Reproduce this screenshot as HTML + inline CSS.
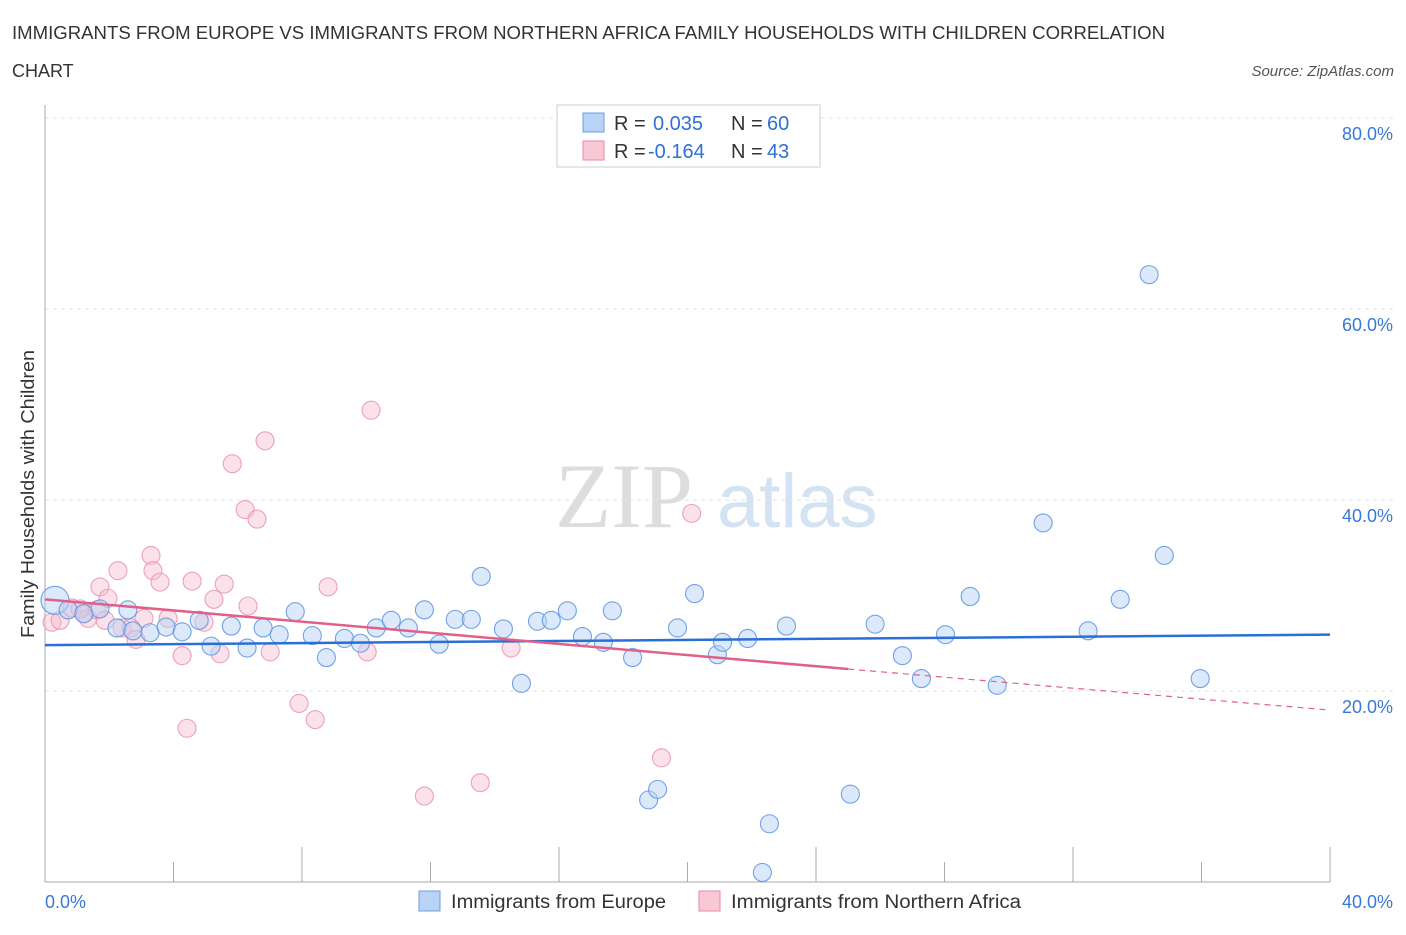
<!DOCTYPE html>
<html><head><meta charset="utf-8"><style>
body{margin:0;background:#fff;font-family:"Liberation Sans",sans-serif;}
</style></head><body>
<svg id="chart" width="1406" height="930" xmlns="http://www.w3.org/2000/svg" font-family="Liberation Sans, sans-serif">
<text x="12" y="39" font-size="18" fill="#333" textLength="1153" lengthAdjust="spacingAndGlyphs">IMMIGRANTS FROM EUROPE VS IMMIGRANTS FROM NORTHERN AFRICA FAMILY HOUSEHOLDS WITH CHILDREN CORRELATION</text>
<text x="12" y="77" font-size="18" fill="#333">CHART</text>
<text x="1394" y="76" font-size="15" fill="#555" font-style="italic" text-anchor="end">Source: ZipAtlas.com</text>
<text x="555" y="527" font-size="92" fill="#ddd" font-family="Liberation Serif, serif">ZIP</text>
<text x="717" y="527" font-size="76" fill="#d4e3f3">atlas</text>
<g id="grid"></g>
<g id="axes"></g>
<g id="marks"></g>
<text transform="translate(34,494) rotate(-90)" font-size="18" fill="#333" text-anchor="middle" textLength="288" lengthAdjust="spacingAndGlyphs">Family Households with Children</text>
<g>
<rect x="557" y="105" width="263" height="62" fill="#fff" stroke="#ccc"/>
<rect x="583" y="113" width="21" height="19" fill="#b8d3f5" stroke="#6a9fe0"/>
<rect x="583" y="141" width="21" height="19" fill="#f9c8d6" stroke="#e88aa6"/>
<text x="614" y="130" font-size="20" fill="#333">R = </text><text x="653" y="130" font-size="20" fill="#2f6fd6">0.035</text>
<text x="731" y="130" font-size="20" fill="#333">N = </text><text x="767" y="130" font-size="20" fill="#2f6fd6">60</text>
<text x="614" y="158" font-size="20" fill="#333">R = </text><text x="648" y="158" font-size="20" fill="#2f6fd6">-0.164</text>
<text x="731" y="158" font-size="20" fill="#333">N = </text><text x="767" y="158" font-size="20" fill="#2f6fd6">43</text>
</g>
<g>
<rect x="419" y="891" width="21" height="20" fill="#b8d3f5" stroke="#6a9fe0"/>
<text x="451" y="908" font-size="19" fill="#333" textLength="215" lengthAdjust="spacingAndGlyphs">Immigrants from Europe</text>
<rect x="699" y="891" width="21" height="20" fill="#f9c8d6" stroke="#e88aa6"/>
<text x="731" y="908" font-size="19" fill="#333" textLength="290" lengthAdjust="spacingAndGlyphs">Immigrants from Northern Africa</text>
</g>
</svg>
<script>
const yTicks=[20,40,60,80];
const xTickLabels=["0.0%","40.0%"];
const europeX=[0.31,0.72,1.21,1.71,2.58,2.24,2.74,3.27,3.77,4.27,4.80,5.17,5.80,6.29,6.79,7.29,7.79,8.32,8.76,9.32,9.82,10.31,10.78,11.31,11.81,12.27,12.77,13.27,13.58,14.27,14.83,15.33,15.76,16.26,16.73,17.38,17.66,18.29,18.79,19.07,19.69,20.22,20.93,21.09,21.87,22.55,22.33,23.08,25.07,25.84,26.69,27.28,28.03,28.80,29.64,31.07,32.47,33.47,34.37,34.84,35.96];
const europeY=[29.5,28.5,28.1,28.6,28.5,26.6,26.3,26.1,26.7,26.2,27.4,24.7,26.8,24.5,26.6,25.9,28.3,25.8,23.5,25.5,25.0,26.6,27.4,26.6,28.5,24.9,27.5,27.5,32.0,26.5,20.8,27.3,27.4,28.4,25.7,25.1,28.4,23.5,8.6,9.7,26.6,30.2,23.8,25.1,25.5,6.1,1.0,26.8,9.2,27.0,23.7,21.3,25.9,29.9,20.6,37.6,26.3,29.6,63.6,34.2,21.3];
const africaX=[0.22,0.47,0.84,1.21,1.34,1.71,1.96,2.27,2.40,2.68,2.83,3.08,3.30,3.36,3.58,3.83,4.27,4.42,4.58,4.95,5.26,5.45,5.58,5.83,6.23,6.32,6.60,6.85,7.01,7.91,8.41,8.81,10.03,10.15,11.81,13.55,14.51,19.19,20.13,1.62,1.09,1.87];
const africaY=[27.2,27.4,28.7,28.1,27.6,30.9,29.7,32.6,26.6,26.6,25.4,27.6,34.2,32.6,31.4,27.6,23.7,16.1,31.5,27.2,29.6,23.9,31.2,43.8,39.0,28.9,38.0,46.2,24.1,18.7,17.0,30.9,24.1,49.4,9.0,10.4,24.5,13.0,38.6,28.5,28.6,27.4];
const europeTrend=[0,24.8,40,25.9];
const africaTrend=[0,29.6,25,22.3,40,18.0];
const NS="http://www.w3.org/2000/svg";
const X0=45,X1=1330,Y0=882,Y80=118;
function xs(v){return X0+(X1-X0)*v/40;}
function ys(v){return Y0-(Y0-Y80)*v/80;}
function mk(tag,attrs,parent){const e=document.createElementNS(NS,tag);for(const k in attrs)e.setAttribute(k,attrs[k]);document.getElementById(parent).appendChild(e);return e;}
yTicks.forEach(t=>{
 const l=mk('line',{x1:X0,x2:1395,y1:ys(t),y2:ys(t),stroke:'#e2e2e2','stroke-dasharray':'4,4'},'grid');
 
 
 const tx=mk('text',{x:1393,y:ys(t)+22,'font-size':18,fill:'#3a78d6','text-anchor':'end'},'grid');
 tx.textContent=t.toFixed(1)+'%';
 
 
});
const ax=mk('line',{x1:X0,x2:X0,y1:105,y2:Y0,stroke:'#aaa'},'axes');


const bx=mk('line',{x1:X0,x2:X1,y1:Y0,y2:Y0,stroke:'#aaa'},'axes');


for(let i=0;i<=10;i++){
 const t=mk('line',{x1:xs(i*4),x2:xs(i*4),y1:Y0,y2:Y0-(i%2?20:35),stroke:'#aaa'},'axes');
 
 
}
[[0,X0,'start'],[40,1393,'end']].forEach((d,i)=>{
 const t=mk('text',{x:d[1],y:908,'font-size':18,fill:'#3a78d6','text-anchor':d[2]},'axes');
 t.textContent=xTickLabels[i];
 
 
});
function dots(xa,ya,fill,stroke,name,op){
 xa.forEach((x,i)=>{
  const c=mk('circle',{cx:xs(x),cy:ys(ya[i]),r:(i===0&&name==='europe-point')?14:9,fill:fill,'fill-opacity':op,stroke:stroke,'stroke-width':1.1,'stroke-opacity':0.85},'marks');
  
  
 });
}
dots(africaX,africaY,'#f7bcd0','#e993b0','africa-point',0.45);
dots(europeX,europeY,'#b8d3f5','#5b93e0','europe-point',0.5);
const bl=mk('line',{x1:xs(europeTrend[0]),y1:ys(europeTrend[1]),x2:xs(europeTrend[2]),y2:ys(europeTrend[3]),stroke:'#2a6fd6','stroke-width':2.5},'marks');


const pl=mk('line',{x1:xs(africaTrend[0]),y1:ys(africaTrend[1]),x2:xs(africaTrend[2]),y2:ys(africaTrend[3]),stroke:'#e0608a','stroke-width':2.5},'marks');


const pd=mk('line',{x1:xs(africaTrend[2]),y1:ys(africaTrend[3]),x2:xs(africaTrend[4]),y2:ys(africaTrend[5]),stroke:'#e0608a','stroke-width':1.2,'stroke-dasharray':'6,5'},'marks');


</script>
</body></html>
